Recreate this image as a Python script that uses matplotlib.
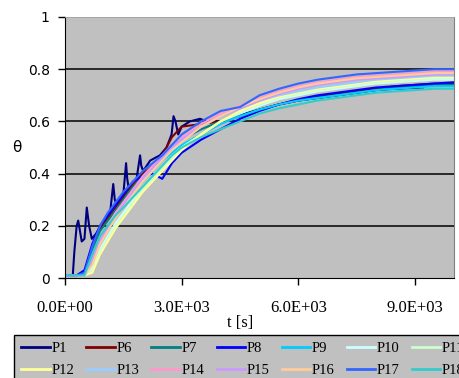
################################################################################
###   theta vs time for the 14 probes (P1 ... P18), Excel-like look
import matplotlib
matplotlib.use('Agg')
import matplotlib.pyplot as plt
import numpy as np

################################################################################
## Data
names = ['P1', 'P6', 'P7', 'P8', 'P9', 'P10', 'P11',
         'P12', 'P13', 'P14', 'P15', 'P16', 'P17', 'P18']
colors = ['#000080', '#800000', '#008080', '#0000FF', '#00CCFF', '#CCFFFF', '#CCFFCC',
          '#FFFF99', '#99CCFF', '#FF99CC', '#CC99FF', '#FFCC99', '#3366FF', '#33CCCC']

# common time grid [s]
t = [0, 300, 500, 700, 900, 1100, 1300, 1500, 1750, 2000, 2250, 2500, 2750, 3000,
     3500, 4000, 4500, 5000, 5500, 6000, 6500, 7000, 7500, 8000, 8500, 9000, 9500, 10000]

# P1 is spiky, has its own time base
t_p1 = [0, 200, 240, 300, 340, 430, 500, 560, 620, 690, 800, 990, 1160, 1240, 1280,
        1330, 1500, 1570, 1600, 1630, 1840, 1930, 1960, 2010, 2190, 2440, 2610, 2740,
        2790, 2840, 2910, 3000, 3210, 3470, 3640, 4000, 4500, 5000, 5500, 6000, 6500,
        7000, 7500, 8000, 8500, 9200]
theta_p1 = [0.01, 0.01, 0.10, 0.20, 0.22, 0.14, 0.15, 0.27, 0.20, 0.15, 0.17, 0.22, 0.25,
            0.36, 0.30, 0.28, 0.32, 0.44, 0.38, 0.35, 0.38, 0.47, 0.43, 0.41, 0.45, 0.47,
            0.50, 0.55, 0.62, 0.60, 0.55, 0.58, 0.60, 0.61, 0.60, 0.60, 0.625, 0.645,
            0.665, 0.68, 0.69, 0.70, 0.71, 0.72, 0.725, 0.73]

theta_p6 = [0.01, 0.01, 0.02, 0.12, 0.19, 0.23, 0.27, 0.31, 0.36, 0.40, 0.43, 0.47, 0.54, 0.58,
            0.59, 0.60, 0.62, 0.645, 0.665, 0.68, 0.695, 0.705, 0.715, 0.725, 0.735, 0.74, 0.745, 0.745]
theta_p7 = [0.01, 0.01, 0.02, 0.11, 0.18, 0.22, 0.26, 0.30, 0.35, 0.39, 0.43, 0.47, 0.51, 0.53,
            0.57, 0.60, 0.62, 0.645, 0.665, 0.68, 0.69, 0.70, 0.71, 0.72, 0.73, 0.735, 0.74, 0.74]
theta_p8 = [0.01, 0.01, 0.03, 0.13, 0.20, 0.24, 0.28, 0.32, 0.37, 0.39, 0.40, 0.38, 0.44, 0.48,
            0.53, 0.57, 0.61, 0.64, 0.665, 0.685, 0.70, 0.71, 0.72, 0.73, 0.735, 0.74, 0.745, 0.75]
theta_p9 = [0.01, 0.01, 0.01, 0.08, 0.15, 0.20, 0.24, 0.28, 0.33, 0.37, 0.41, 0.45, 0.48, 0.51,
            0.55, 0.59, 0.62, 0.645, 0.665, 0.68, 0.69, 0.70, 0.71, 0.72, 0.725, 0.73, 0.735, 0.735]
theta_p10 = [0.01, 0.01, 0.01, 0.04, 0.11, 0.16, 0.21, 0.25, 0.30, 0.35, 0.39, 0.43, 0.47, 0.50,
             0.55, 0.60, 0.63, 0.66, 0.685, 0.70, 0.715, 0.725, 0.735, 0.745, 0.75, 0.755, 0.76, 0.76]
theta_p11 = [0.01, 0.01, 0.01, 0.03, 0.10, 0.15, 0.20, 0.24, 0.29, 0.34, 0.38, 0.42, 0.46, 0.50,
             0.55, 0.60, 0.635, 0.665, 0.69, 0.705, 0.72, 0.73, 0.74, 0.75, 0.755, 0.76, 0.765, 0.765]
theta_p12 = [0.01, 0.01, 0.01, 0.02, 0.09, 0.14, 0.19, 0.23, 0.28, 0.33, 0.37, 0.41, 0.45, 0.49,
             0.55, 0.60, 0.64, 0.67, 0.695, 0.71, 0.725, 0.735, 0.745, 0.755, 0.76, 0.765, 0.77, 0.77]
theta_p13 = [0.01, 0.01, 0.01, 0.06, 0.14, 0.19, 0.24, 0.28, 0.33, 0.38, 0.42, 0.46, 0.50, 0.53,
             0.58, 0.62, 0.65, 0.68, 0.70, 0.715, 0.73, 0.74, 0.75, 0.76, 0.765, 0.77, 0.775, 0.775]
theta_p14 = [0.01, 0.01, 0.01, 0.07, 0.15, 0.20, 0.25, 0.29, 0.34, 0.39, 0.43, 0.47, 0.51, 0.54,
             0.59, 0.63, 0.66, 0.69, 0.715, 0.735, 0.75, 0.76, 0.77, 0.775, 0.78, 0.785, 0.79, 0.79]
theta_p15 = [0.01, 0.01, 0.01, 0.06, 0.14, 0.19, 0.24, 0.28, 0.33, 0.38, 0.42, 0.46, 0.50, 0.53,
             0.58, 0.62, 0.65, 0.68, 0.705, 0.725, 0.74, 0.75, 0.76, 0.765, 0.77, 0.775, 0.78, 0.78]
theta_p16 = [0.01, 0.01, 0.01, 0.05, 0.13, 0.18, 0.23, 0.27, 0.32, 0.37, 0.41, 0.45, 0.49, 0.52,
             0.58, 0.62, 0.655, 0.685, 0.71, 0.73, 0.745, 0.755, 0.765, 0.77, 0.775, 0.78, 0.785, 0.785]
theta_p17 = [0.01, 0.01, 0.02, 0.12, 0.20, 0.25, 0.29, 0.33, 0.37, 0.41, 0.44, 0.47, 0.51, 0.55,
             0.60, 0.64, 0.655, 0.70, 0.725, 0.745, 0.76, 0.77, 0.78, 0.785, 0.79, 0.795, 0.80, 0.80]
theta_p18 = [0.01, 0.01, 0.01, 0.09, 0.16, 0.20, 0.24, 0.27, 0.31, 0.35, 0.39, 0.43, 0.47, 0.50,
             0.54, 0.57, 0.60, 0.63, 0.65, 0.665, 0.68, 0.69, 0.70, 0.71, 0.715, 0.72, 0.725, 0.725]

x_ticks = [0, 3000, 6000, 9000]
x_ticklabels = ['0.0E+00', '3.0E+03', '6.0E+03', '9.0E+03']
y_ticks = [0, 0.2, 0.4, 0.6, 0.8, 1]
y_ticklabels = ['0', '0.2', '0.4', '0.6', '0.8', '1']

series = [theta_p1, theta_p6, theta_p7, theta_p8, theta_p9, theta_p10, theta_p11,
          theta_p12, theta_p13, theta_p14, theta_p15, theta_p16, theta_p17, theta_p18]

################################################################################
fig = plt.figure(figsize=(4.6, 3.78), dpi=100)
ax = fig.add_axes([65/460, 1-278/378, 389/460, 261/378])
ax.set_facecolor('#C0C0C0')

handles = []
for i in range(len(names)):
    if i == 0:
        tt = t_p1
    else:
        tt = t
    h, = ax.plot(tt, series[i], color=colors[i], lw=1.5, label=names[i])
    handles.append(h)

ax.set_xlim(0, 10000)
ax.set_ylim(0, 1)
for yg in y_ticks[1:-1]:
    ax.axhline(yg, color='black', lw=1.1, zorder=1)

ax.set_xticks(x_ticks)
ax.set_xticklabels(x_ticklabels, fontfamily='Liberation Serif', fontsize=12)
ax.set_yticks(y_ticks)
ax.set_yticklabels(y_ticklabels, fontfamily='DejaVu Sans', fontsize=10)
ax.tick_params(axis='x', direction='out', length=5, width=1, pad=11)
ax.tick_params(axis='y', direction='out', length=5, width=1, pad=6)

ax.spines['left'].set_color('black')
ax.spines['bottom'].set_color('black')
ax.spines['top'].set_color('#A0A0A0')
ax.spines['right'].set_color('#808080')
ax.spines['top'].set_linewidth(0.6)
ax.spines['right'].set_linewidth(0.8)

ax.set_xlabel('t [s]', fontfamily='Liberation Serif', fontsize=12, va='center')
ax.xaxis.set_label_coords(0.45, -0.172)
ax.set_ylabel('\u03b8', fontfamily='DejaVu Sans', fontsize=11, rotation=0, va='center')
ax.yaxis.set_label_coords(-0.123, 0.5)

### legend is filled row by row (Excel style), matplotlib fills by column
ncol = 7
order = []
for c in range(ncol):
    order.append(c)
    order.append(c + ncol)
leg = fig.legend([handles[k] for k in order], [names[k] for k in order],
                 loc='upper left', bbox_to_anchor=(14/460, 1-335/378), ncol=ncol,
                 prop={'family': 'Liberation Serif', 'size': 10.5},
                 handlelength=1.95, handletextpad=0.1, columnspacing=0.85,
                 labelspacing=0.6, borderpad=0.5, borderaxespad=0,
                 fancybox=False, framealpha=1, facecolor='#C0C0C0', edgecolor='black')
leg.get_frame().set_linewidth(1)
for line in leg.get_lines():
    line.set_linewidth(2)

fig.savefig('out.png', dpi=100)
